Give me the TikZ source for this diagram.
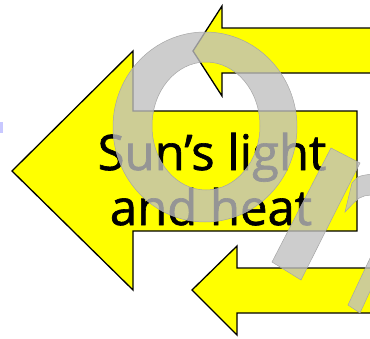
\documentclass[tikz,border=0pt]{standalone}
\usepackage{fontspec}
\setmainfont{Open Sans}
\newfontfamily\signfont{Open Sans}[FakeBold=1.3]
\usepackage{xcolor}
\usepackage{tikz}
\definecolor{arrowyellow}{RGB}{255,255,0}
\definecolor{ringgray}{RGB}{191,191,191}
\definecolor{markblue}{RGB}{200,200,255}

\begin{document}
\begin{tikzpicture}[
  x=1pt, y=-1pt,
  arrowshape/.style={draw=black, line width=1.3pt, fill=arrowyellow, line join=miter},
  letter/.style={fill=ringgray, fill opacity=0.78, draw=gray!70, line width=0.5pt},
  label/.style={font=\signfont\fontsize{49}{55}\selectfont, anchor=base, inner sep=0pt},
]
\useasboundingbox (0,0) rectangle (370,338);
\clip (0,0) rectangle (370,338);
% three arrows pointing left
\draw[arrowshape] (193,51) -- (222,6) -- (222,28) -- (380,28) -- (380,73) -- (222,73) -- (222,96) -- cycle;
\draw[arrowshape] (12,171) -- (133,51) -- (133,111) -- (357,111) -- (357,231) -- (133,231) -- (133,290) -- cycle;
\draw[arrowshape] (192,290) -- (237,246) -- (237,268) -- (380,268) -- (380,313) -- (237,313) -- (237,335) -- cycle;
% text
\node[label] (line1) at (212,170) {Sun’s light};
\node[label] (line2) at (211,225) {and heat};
% watermark letters
\path[letter, even odd rule] (205,127) ellipse [x radius=92, y radius=95]
  (206,126) ellipse [x radius=54, y radius=64];
\path[letter] (331,148) -- (360,163) -- (301,280) -- (272,262) -- cycle;
\path[letter] (352,183) .. controls (358,176) .. (372,174) -- (372,195) .. controls (360,196) .. (345,212) -- cycle;
\path[letter] (348,305) -- (360,313) -- (372,287) -- (372,254) -- cycle;
% small mark at left edge
\fill[markblue] (0,122) rectangle (3,133);
\end{tikzpicture}
\end{document}
